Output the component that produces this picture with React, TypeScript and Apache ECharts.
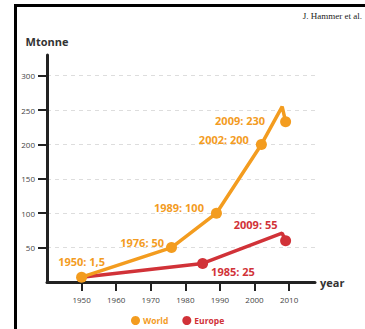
import React, { useEffect, useRef } from "react";
import * as echarts from "echarts";

// ---- data ----
const worldYears = [1950, 1976, 1989, 2002, 2008, 2009];
const worldValues = [7, 50, 100, 200, 255, 233];
const worldMarkers = [true, true, true, true, false, true];
const worldLabels = ["1950: 1,5", "1976: 50", "1989: 100", "2002: 200", "", "2009: 230"];

const europeYears = [1950, 1985, 2008, 2009];
const europeValues = [7, 27, 71, 60];
const europeMarkers = [false, true, false, true];
const europeLabels = ["", "1985: 25", "", "2009: 55"];

const xTicks = [1950, 1960, 1970, 1980, 1990, 2000, 2010];
const yTicks = [50, 100, 150, 200, 250, 300];

const seriesNames = ["World", "Europe"];

// ---- label layout (styling, not data) ----
const worldLabelLayout: any[] = [
  { position: "top", distance: 5, offset: [0, 0] },
  { position: "left", distance: 2, offset: [0, -5] },
  { position: "left", distance: 7, offset: [0, -6] },
  { position: "left", distance: 7, offset: [0, -5] },
  null,
  { position: "left", distance: 15, offset: [0, -1] },
];
const europeLabelLayout: any[] = [
  null,
  { position: "right", distance: 3, offset: [0, 8] },
  null,
  { position: "top", distance: 5, offset: [-30, 0] },
];

const ORANGE = "#F39C1F";
const RED = "#D13238";
const FONT = "'Open Sans', 'DejaVu Sans', sans-serif";

function buildData(years: number[], values: number[], markers: boolean[], labels: string[], layout: any[], color: string) {
  return years.map((y, i) => {
    const l = layout[i];
    return {
      value: [y, values[i]],
      symbol: markers[i] ? "circle" : "none",
      label: l && labels[i]
        ? {
            show: true,
            formatter: labels[i],
            position: l.position,
            distance: l.distance,
            offset: l.offset,
            color,
            fontFamily: FONT,
            fontWeight: "bold",
            fontSize: 11,
          }
        : { show: false },
    };
  });
}

export default function App() {
  const ref = useRef<HTMLDivElement>(null);
  useEffect(() => {
    if (!ref.current) return;
    const chart = echarts.init(ref.current, undefined, { renderer: "svg" });
    chart.setOption({
      animation: false,
      backgroundColor: "#ffffff",
      grid: { left: 47, right: 50, top: 55, bottom: 47, containLabel: false },
      legend: {
        left: 126,
        top: 311,
        icon: "circle",
        itemWidth: 9,
        itemHeight: 9,
        itemGap: 14,
        selectedMode: false,
        data: [
          { name: seriesNames[0], textStyle: { color: ORANGE } },
          { name: seriesNames[1], textStyle: { color: RED } },
        ],
        textStyle: { fontFamily: FONT, fontWeight: "bold", fontSize: 8.5, padding: [0, 0, 0, -2] },
      },
      xAxis: {
        type: "value",
        min: 1940,
        max: 2017.5,
        interval: 10,
        name: "year",
        nameLocation: "end",
        nameGap: 5,
        nameTextStyle: { fontFamily: FONT, fontWeight: "bold", fontSize: 11, color: "#333", verticalAlign: "middle" },
        axisLine: { show: true, lineStyle: { color: "#222", width: 3 } },
        axisTick: { show: true, length: 9, lineStyle: { color: "#222", width: 2 }, customValues: xTicks },
        axisLabel: {
          customValues: xTicks,
          margin: 13,
          fontFamily: FONT,
          fontSize: 8,
          color: "#444",
          formatter: (v: number) => String(v),
        },
        splitLine: { show: false },
      },
      yAxis: {
        type: "value",
        min: 0,
        max: 330,
        interval: 50,
        name: "Mtonne",
        nameLocation: "end",
        nameGap: 8,
        nameTextStyle: { fontFamily: FONT, fontWeight: "bold", fontSize: 11, color: "#333", align: "center" },
        axisLine: { show: true, lineStyle: { color: "#222", width: 3 } },
        axisTick: { show: true, length: 9, lineStyle: { color: "#222", width: 2 }, customValues: yTicks },
        axisLabel: { customValues: yTicks, margin: 12, fontFamily: FONT, fontSize: 8, color: "#444" },
        splitLine: { show: true, lineStyle: { color: "#dddddd", type: [4, 4], width: 1 } },
      },
      series: [
        {
          name: seriesNames[1],
          type: "line",
          z: 2,
          color: RED,
          lineStyle: { width: 3.5, color: RED },
          symbolSize: 11,
          itemStyle: { color: RED },
          silent: true,
          data: buildData(europeYears, europeValues, europeMarkers, europeLabels, europeLabelLayout, RED),
        },
        {
          name: seriesNames[0],
          type: "line",
          z: 3,
          color: ORANGE,
          lineStyle: { width: 3.5, color: ORANGE },
          symbolSize: 11,
          itemStyle: { color: ORANGE },
          silent: true,
          data: buildData(worldYears, worldValues, worldMarkers, worldLabels, worldLabelLayout, ORANGE),
        },
      ],
      graphic: [
        {
          type: "polyline",
          shape: { points: [[15.5, 329], [15.5, 5.5], [365, 5.5]] },
          style: { stroke: "#000", lineWidth: 3, fill: "none" },
          silent: true,
        },
        {
          type: "text",
          right: 3,
          top: 11,
          style: {
            text: "J. Hammer et al.",
            fontFamily: "'Liberation Serif', serif",
            fontSize: 9,
            fill: "#222",
          },
          silent: true,
        },
      ],
    });
    return () => chart.dispose();
  }, []);
  return (
    <div
      ref={ref}
      style={{ position: "fixed", left: 0, top: 0, width: 365, height: 329 }}
    />
  );
}
